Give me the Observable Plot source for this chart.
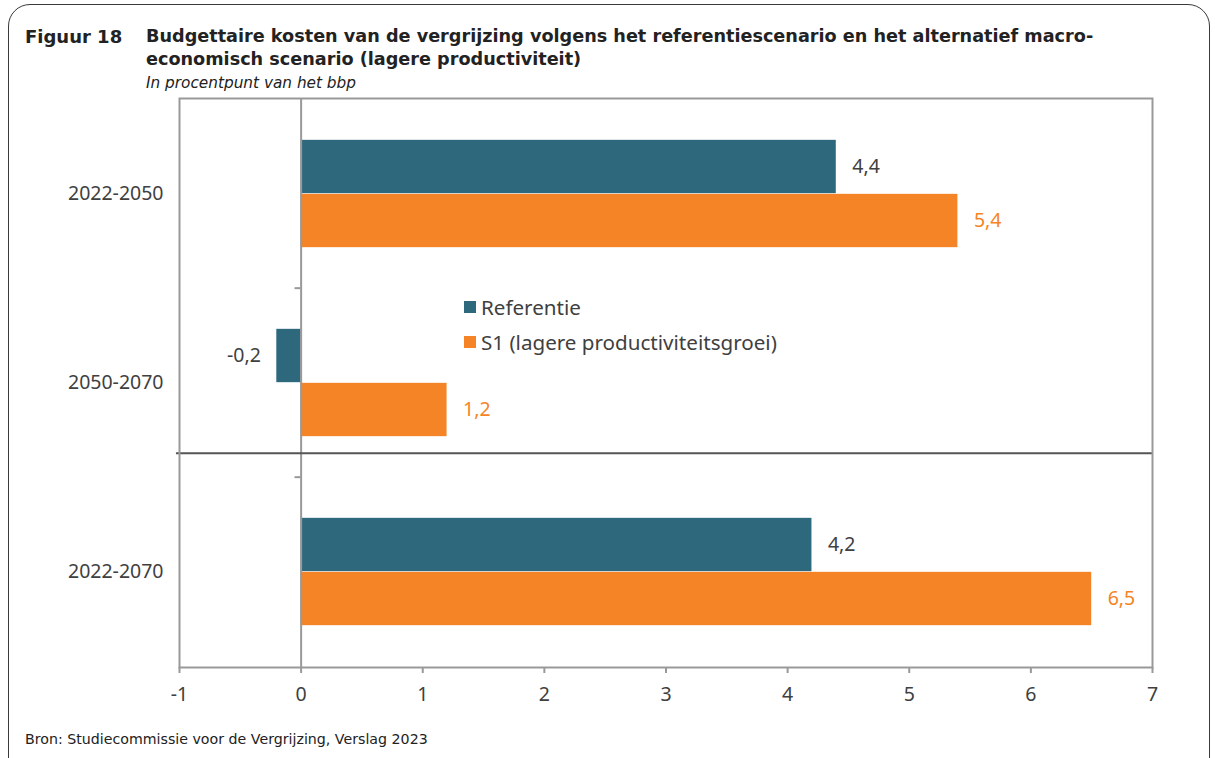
<!DOCTYPE html>
<html>
<head>
<meta charset="utf-8">
<script src="https://cdn.jsdelivr.net/npm/d3@7"></script>
<script src="https://cdn.jsdelivr.net/npm/@observablehq/plot@0.6"></script>
<style>
  html, body { margin: 0; padding: 0; background: #fff; }
  #fig { position: relative; width: 1215px; height: 758px; overflow: hidden; font-family: "Noto Sans", sans-serif; color: #333; }
  #border { position: absolute; left: 8px; top: 4px; width: 1202px; height: 790px; border: 1.5px solid #3a3a3a; border-radius: 22px; box-sizing: border-box; }
  .t { position: absolute; white-space: nowrap; font-family: "DejaVu Sans", sans-serif; }
  #fignum { left: 25px; top: 25px; font-weight: bold; font-size: 18px; line-height: 23px; color: #222; }
  #title { left: 146px; top: 25px; font-weight: bold; font-size: 17.65px; line-height: 23px; color: #222; }
  #subtitle { left: 146px; top: 74px; font-style: italic; font-size: 15.3px; line-height: 18px; color: #222; }
  #caption { left: 25px; top: 730px; font-size: 14.2px; line-height: 18px; color: #222; }
  #plot { position: absolute; left: 0; top: 90px; }
  #legend { position: absolute; left: 464px; top: 289px; font-size: 20.6px; color: #404040; }
  .li { display: flex; align-items: center; height: 35px; }
  .sw { width: 12px; height: 12px; margin-right: 5px; }
</style>
</head>
<body>
<div id="fig">
  <div id="border"></div>
  <div class="t" id="fignum">Figuur 18</div>
  <div class="t" id="title">Budgettaire kosten van de vergrijzing volgens het referentiescenario en het alternatief macro-<br>economisch scenario (lagere productiviteit)</div>
  <div class="t" id="subtitle">In procentpunt van het bbp</div>
  <div id="plot"></div>
  <div id="legend"></div>
  <div class="t" id="caption">Bron: Studiecommissie voor de Vergrijzing, Verslag 2023</div>
</div>
<script>
const categories = ["2022-2050", "2050-2070", "2022-2070"];
const seriesNames = ["Referentie", "S1 (lagere productiviteitsgroei)"];
const referentie = [4.4, -0.2, 4.2];
const s1 = [5.4, 1.2, 6.5];
const xTicks = [-1, 0, 1, 2, 3, 4, 5, 6, 7];
const xTickLabels = ["-1", "0", "1", "2", "3", "4", "5", "6", "7"];
const colors = ["#2e687d", "#f58426"];
const labelColors = ["#404040", "#f58426"];

const fmt = v => String(v).replace(".", ",");
const refData = categories.map((c, i) => ({cat: c, value: referentie[i], label: fmt(referentie[i])}));
const s1Data = categories.map((c, i) => ({cat: c, value: s1[i], label: fmt(s1[i])}));

const bandH = 569 / 3; // pixel band height used for in-band offsets
const barH = 54;
const gap = (bandH - 2 * barH) / 2;
const fs = 19.5;

const chart = Plot.plot({
  width: 1215,
  height: 617,
  marginTop: 8,
  marginBottom: 40,
  marginLeft: 179,
  marginRight: 63,
  style: {fontFamily: "Noto Sans, sans-serif", background: "transparent", color: "#404040"},
  x: {domain: [-1, 7]},
  y: {domain: categories, padding: 0},
  marks: [
    Plot.barX(refData, {x: "value", y: "cat", fill: colors[0], insetTop: gap, insetBottom: gap + barH}),
    Plot.barX(s1Data, {x: "value", y: "cat", fill: colors[1], insetTop: gap + barH, insetBottom: gap}),
    Plot.ruleX([0], {stroke: "#999", strokeWidth: 2}),
    Plot.ruleY(categories.slice(1), {x1: -0.05, x2: 0, dy: -bandH / 2, stroke: "#999", strokeWidth: 2}),
    Plot.ruleY([categories[2]], {x1: -1.025, x2: 7, dy: -bandH / 2 - 24, stroke: "#555", strokeWidth: 2}),
    Plot.frame({stroke: "#999", strokeWidth: 2}),
    Plot.text(refData.filter(d => d.value >= 0), {x: "value", y: "cat", text: "label", dy: -barH / 2,
      dx: 16, textAnchor: "start", fill: labelColors[0], fontSize: fs}),
    Plot.text(refData.filter(d => d.value < 0), {x: "value", y: "cat", text: "label", dy: -barH / 2,
      dx: -16, textAnchor: "end", fill: labelColors[0], fontSize: fs}),
    Plot.text(s1Data, {x: "value", y: "cat", text: "label", dy: barH / 2, dx: 16, textAnchor: "start",
      fill: labelColors[1], fontSize: fs}),
    Plot.axisX({ticks: xTicks, tickFormat: (d, i) => xTickLabels[i], tickSize: 6, tickPadding: 14,
      stroke: "#999", strokeWidth: 2, fontSize: fs, fill: "#404040", label: null}),
    Plot.axisY({tickSize: 0, tickPadding: 16, fontSize: fs, fill: "#404040", label: null})
  ]
});
document.getElementById("plot").appendChild(chart);

const legend = document.getElementById("legend");
seriesNames.forEach((n, i) => {
  const row = document.createElement("div");
  row.className = "li";
  row.innerHTML = `<span class="sw" style="background:${colors[i]}"></span><span>${n}</span>`;
  legend.appendChild(row);
});
</script>
</body>
</html>
